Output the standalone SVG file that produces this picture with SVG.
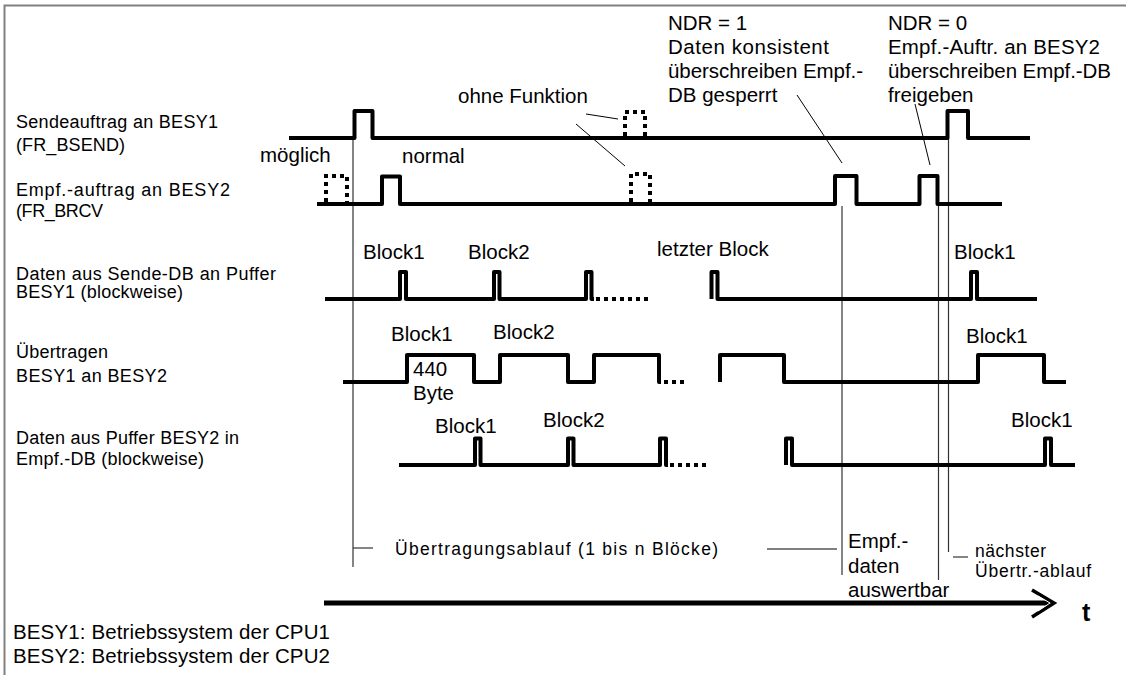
<svg xmlns="http://www.w3.org/2000/svg" width="1126" height="675" viewBox="0 0 1126 675">
<style>
text{font-family:"Liberation Sans",Arial,sans-serif;fill:#000}
.lab{font-size:18px}
.t{font-size:20.5px}
.sm{font-size:17.5px}
.sig{fill:none;stroke:#000;stroke-width:4;stroke-linejoin:round}
.dots{fill:none;stroke:#000;stroke-width:4;stroke-dasharray:4 4}
.guide{fill:none;stroke:#333;stroke-width:1.2}
.lead{fill:none;stroke:#000;stroke-width:1}
</style>
<rect width="1126" height="675" fill="#fff"/>
<g id="frame">
<path d="M4.5,675 V5.5 H1126" fill="none" stroke="#808080" stroke-width="2"/>
</g>
<g id="labels">
<text class="lab" x="16" y="128" textLength="202">Sendeauftrag an BESY1</text>
<text class="lab" x="16" y="151" textLength="109">(FR_BSEND)</text>
<text class="lab" x="16" y="196" textLength="214">Empf.-auftrag an BESY2</text>
<text class="lab" x="16" y="217" textLength="87">(FR_BRCV</text>
<text class="lab" x="16" y="280" textLength="260">Daten aus Sende-DB an Puffer</text>
<text class="lab" x="16" y="298" textLength="167">BESY1 (blockweise)</text>
<text class="lab" x="16" y="358" textLength="92">Übertragen</text>
<text class="lab" x="16" y="382" textLength="151">BESY1 an BESY2</text>
<text class="lab" x="16" y="444" textLength="223">Daten aus Puffer BESY2 in</text>
<text class="lab" x="16" y="465" textLength="188">Empf.-DB (blockweise)</text>
</g>
<g id="connectors">
<path class="guide" d="M353,138 V567"/>
<path class="guide" d="M842,206 V575"/>
<path class="guide" d="M938.5,204 V580"/>
<path class="guide" d="M948.5,138 V552" stroke="#555"/>
<path class="guide" d="M353,548 H373" stroke="#666"/>
<path class="lead" d="M767,549 H837"/>
<path class="guide" d="M953,557 H968" stroke="#666"/>
<path class="lead" d="M586,114 L618,119"/>
<path class="lead" d="M576,124 L625,166"/>
<path class="lead" d="M797,95 L842,163"/>
<path class="lead" d="M915,104 L930,165"/>
</g>
<g id="signal-send">
<path class="sig" d="M289,138 H354.5 V111 H372.5 V138 H947.5 V111 H968 V138 H1030"/>
<path class="dots" d="M625,136 V112 H645 V136"/>
</g>
<g id="signal-recv">
<path class="sig" d="M317,204 H382 V176.5 H400 V204 H835 V176 H856.5 V204 H919.5 V176 H937.5 V204 H1002"/>
<path class="dots" d="M326,202 V176 H347 V202"/>
<path class="dots" d="M631,202 V174 H650 V202"/>
</g>
<g id="signal-buffer1">
<path class="sig" d="M325,299 H400 V272 H406 V299 H494 V272 H499.5 V299 H586 V272 H591.5 V299 H594"/>
<path class="dots" d="M596,299 H648" stroke-dasharray="4 5"/>
<path class="sig" d="M711.5,299 V272 H717.5 V299 H971 V272 H977 V299 H1037"/>
</g>
<g id="signal-transfer">
<path class="sig" d="M343,382 H407 V355 H474 V382 H500 V355 H568 V382 H594 V355 H659 V382 H661"/>
<path class="dots" d="M664,382 H686" stroke-dasharray="4 5"/>
<path class="sig" d="M720,382 V355 H784 V382 H978 V355 H1044 V382 H1066"/>
</g>
<g id="signal-buffer2">
<path class="sig" d="M399,465 H475 V438.5 H480.5 V465 H568 V438.5 H573.5 V465 H660 V438.5 H666 V465 H668"/>
<path class="dots" d="M670,465 H706" stroke-dasharray="4 5"/>
<path class="sig" d="M786,465 V438.5 H792 V465 H1045 V438.5 H1051 V465 H1075"/>
</g>
<g id="time-axis">
<path d="M324,603 H1050" stroke="#000" stroke-width="5" fill="none"/>
<path d="M1032,590 L1054,603 L1032,617" fill="none" stroke="#000" stroke-width="3.5" stroke-linejoin="miter"/>
<path d="M1038,596 L1050,603 L1038,611" fill="none" stroke="#fff" stroke-width="1"/>
<text x="1082" y="621" font-size="25" font-weight="bold">t</text>
</g>
<g id="annotations">
<text class="t" x="260" y="162">möglich</text>
<text class="t" x="402" y="163">normal</text>
<text class="t" x="458" y="103">ohne Funktion</text>
<text class="t" x="668" y="30">NDR = 1</text>
<text class="t" x="668" y="54" textLength="161">Daten konsistent</text>
<text class="t" x="668" y="78" textLength="195">überschreiben Empf.-</text>
<text class="t" x="668" y="102">DB gesperrt</text>
<text class="t" x="888" y="30">NDR = 0</text>
<text class="t" x="888" y="54" textLength="212">Empf.-Auftr. an BESY2</text>
<text class="t" x="888" y="78" textLength="223">überschreiben Empf.-DB</text>
<text class="t" x="888" y="102">freigeben</text>
<text class="t" x="363" y="259">Block1</text>
<text class="t" x="468" y="259">Block2</text>
<text class="t" x="657" y="256">letzter Block</text>
<text class="t" x="954" y="259">Block1</text>
<text class="t" x="391" y="341">Block1</text>
<text class="t" x="493" y="339">Block2</text>
<text class="t" x="413" y="376">440</text>
<text class="t" x="413" y="400">Byte</text>
<text class="t" x="966" y="343">Block1</text>
<text class="t" x="435" y="433">Block1</text>
<text class="t" x="543" y="427">Block2</text>
<text class="t" x="1011" y="427">Block1</text>
<text class="sm" x="395" y="555" textLength="323">Übertragungsablauf  (1 bis n Blöcke)</text>
<text class="t" x="848" y="548">Empf.-</text>
<text class="t" x="848" y="573">daten</text>
<text class="t" x="848" y="597">auswertbar</text>
<text class="sm" x="975" y="557" textLength="71">nächster</text>
<text class="sm" x="975" y="577" textLength="116">Übertr.-ablauf</text>
<text class="t" x="13" y="639" textLength="317">BESY1: Betriebssystem der CPU1</text>
<text class="t" x="13" y="663" textLength="317">BESY2: Betriebssystem der CPU2</text>
</g>
</svg>
